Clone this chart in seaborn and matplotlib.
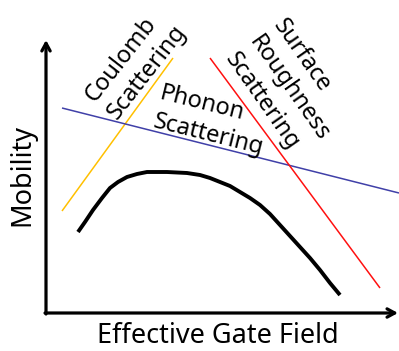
import numpy as np
import pandas as pd
import matplotlib
matplotlib.use("Agg")
import matplotlib.pyplot as plt
import seaborn as sns

# ── data (sketch units: field → right, mobility → up) ─────────────────────
CURVE_FIELD    = [78, 85, 93, 102, 110, 118, 127, 137, 147, 167, 187, 200, 210,
                  220, 230, 240, 250, 260, 270, 280, 290, 300, 310, 320, 330, 340]
CURVE_MOBILITY = [119, 129, 141, 153, 163, 169, 174, 177, 179, 179, 178, 176, 173,
                  169, 165, 159, 153, 146, 137, 126, 115, 104, 93, 81, 68, 56]

COULOMB_FIELD    = [62, 173]
COULOMB_MOBILITY = [140, 293]
PHONON_FIELD     = [62, 399]
PHONON_MOBILITY  = [243, 158]
SURFACE_FIELD    = [210, 380]
SURFACE_MOBILITY = [293, 63]

AXIS_ORIGIN = (46, 38)
AXIS_X_END  = 398
AXIS_Y_END  = 311

sns.set_style("white")
plt.rcParams["font.family"] = ["Noto Sans", "DejaVu Sans"]
plt.rcParams["text.color"] = "black"

fig = plt.figure(figsize=(3.99, 3.51), dpi=100)
ax = fig.add_axes([0, 0, 1, 1])

def _line(xs, ys, color, lw):
    df = pd.DataFrame({"field": xs, "mobility": ys})
    sns.lineplot(data=df, x="field", y="mobility", sort=False, estimator=None,
                 color=color, lw=lw, ax=ax, solid_capstyle="butt",
                 solid_joinstyle="round")

_line(COULOMB_FIELD, COULOMB_MOBILITY, "#FFC000", 1.1)
_line(PHONON_FIELD, PHONON_MOBILITY, "#4040A8", 1.1)
_line(SURFACE_FIELD, SURFACE_MOBILITY, "#FF1010", 1.1)
_line(CURVE_FIELD, CURVE_MOBILITY, "black", 2.8)

# axes arrows
arrow = dict(arrowstyle="->,head_length=0.55,head_width=0.3", lw=2.3,
             color="black", shrinkA=0, shrinkB=0)
ax.annotate("", xy=(AXIS_X_END, AXIS_ORIGIN[1]), xytext=(AXIS_ORIGIN[0] - 1, AXIS_ORIGIN[1]),
            arrowprops=arrow)
ax.annotate("", xy=(AXIS_ORIGIN[0], AXIS_Y_END), xytext=(AXIS_ORIGIN[0], AXIS_ORIGIN[1] - 1),
            arrowprops=arrow)

fs = 19.5
fs_lab = 17
ax.text(218, 15, "Effective Gate Field", ha="center", va="center", fontsize=fs)
ax.text(22, 176, "Mobility", ha="center", va="center", rotation=90, fontsize=fs)

ax.text(101, 243, "Coulomb\nScattering", ha="left", va="center", rotation=52,
        rotation_mode="anchor", fontsize=fs_lab, linespacing=1.3)
ax.text(157, 244, "Phonon\nScattering", ha="left", va="center", rotation=-14,
        rotation_mode="anchor", fontsize=fs_lab, linespacing=1.3)
ax.text(254, 313, "Surface\nRoughness\nScattering", ha="left", va="center", rotation=-55,
        rotation_mode="anchor", fontsize=fs_lab, linespacing=1.3)

ax.set_xlim(0, 399)
ax.set_ylim(0, 351)
ax.set_axis_off()

fig.savefig("out.png", dpi=100, facecolor="white")
